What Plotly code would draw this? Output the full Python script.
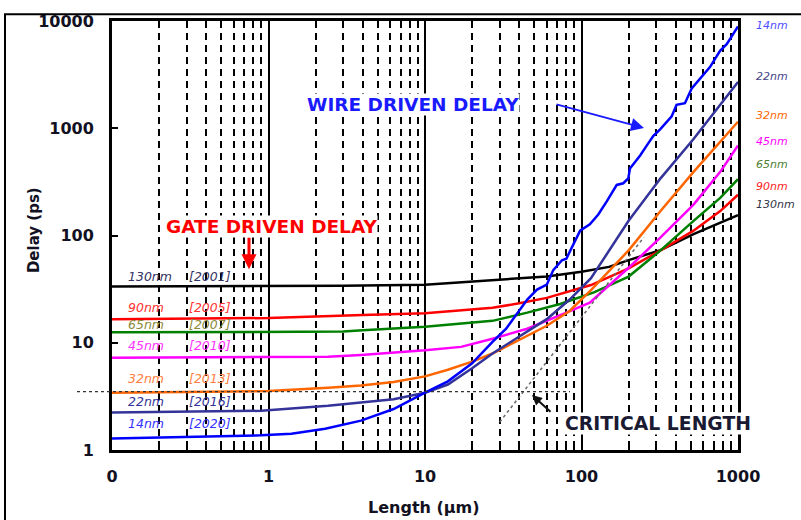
import math
import plotly.graph_objects as go

# ---------------- data ----------------
L_14 = [0.1, 0.5, 0.9, 1.4, 2.3, 3.9, 6.3, 10, 14, 20, 27, 33, 38.5, 45, 52, 60, 66, 75, 80,
        89, 98, 113, 128, 145, 168, 185, 199, 204, 237, 261, 288, 318, 377, 405, 458, 506,
        572, 662, 768, 847, 1000]
D_14 = [1.28, 1.33, 1.37, 1.42, 1.58, 1.88, 2.41, 3.42, 4.37, 6.43, 10.2, 13.5, 18.5, 25.3,
        31.3, 34.8, 47.6, 58.8, 60.8, 83.6, 111, 127, 157, 208, 296, 307, 341, 421, 557, 688,
        849, 977, 1294, 1656, 1714, 2350, 2900, 3715, 5280, 6070, 8900]

L_22 = [0.1, 0.9, 2.4, 6.3, 10, 14, 20, 27, 38, 60, 84, 115, 200, 320, 520, 1000]
D_22 = [2.24, 2.32, 2.58, 2.97, 3.42, 4.08, 5.78, 7.94, 10.9, 16.6, 25.3, 40, 137, 341, 793, 2700]

L_32 = [0.1, 1, 2.4, 3.9, 6.3, 10, 14, 20, 27, 38, 60, 84, 115, 200, 320, 520, 770, 1000]
D_32 = [3.42, 3.55, 3.8, 4.0, 4.3, 4.86, 5.6, 6.67, 7.94, 10.2, 14.4, 19.8, 31, 72.6, 169, 392,
        738, 1150]

L_45 = [0.1, 1, 2.4, 3.9, 10, 17, 27, 45, 64, 80, 113, 200, 320, 520, 770, 1000]
D_45 = [7.25, 7.3, 7.4, 7.7, 8.5, 9.15, 10.9, 13.5, 16.6, 19.1, 23.6, 50, 96, 194, 392, 690]

L_65 = [0.1, 1, 3, 4, 10, 27, 45, 73, 100, 120, 200, 320, 520, 770, 1000]
D_65 = [12.5, 12.6, 12.7, 13.1, 14.1, 16.0, 19.1, 23.0, 27.2, 29.5, 41.4, 72.6, 137, 224, 335]

L_90 = [0.1, 1, 4, 10, 27, 40, 60, 80, 115, 200, 320, 520, 770, 1000]
D_90 = [16.6, 17.0, 18.1, 18.8, 21.2, 23.3, 26.2, 29.5, 34.5, 49.4, 72.6, 111, 169, 240]

L_130 = [0.1, 1, 3, 10, 30, 60, 100, 150, 200, 320, 520, 770, 1000]
D_130 = [33.5, 33.6, 34.0, 34.7, 39, 41.5, 46, 51, 59, 73, 103, 132, 155]

CRIT_L = [30, 250]
CRIT_D = [1.82, 96]
CRIT_LEVEL = 3.5

NODES = ["130nm", "90nm", "65nm", "45nm", "32nm", "22nm", "14nm"]
YEARS = ["[2001]", "[2005]", "[2007]", "[2010]", "[2013]", "[2016]", "[2020]"]
CURVE_COLORS = ["#000000", "#ff0000", "#008000", "#ff00ff", "#ff6600", "#333399", "#0000ff"]
LABEL_COLORS = ["#333366", "#ff3333", "#8c8c3c", "#ff33ff", "#ff8040", "#333399", "#3333ff"]
SERIES_L = [L_130, L_90, L_65, L_45, L_32, L_22, L_14]
SERIES_D = [D_130, D_90, D_65, D_45, D_32, D_22, D_14]

X_TICKS = [0.1, 1, 10, 100, 1000]
X_TICKTEXT = ["0", "1", "10", "100", "1000"]
Y_TICKS = [1, 10, 100, 1000, 10000]
Y_TICKTEXT = ["1", "10", "100", "1000", "10000"]

# ---------------- layout geometry ----------------
W, H = 801, 520
ML, MR, MT, MB = 112, 63, 13, 70
PW, PH = W - ML - MR, H - MT - MB


def px(x):
    return (x - ML) / PW


def py(y):
    return (H - MB - y) / PH


BOLD = "DejaVu Sans"
fig = go.Figure()

for name, L, D, c in zip(NODES, SERIES_L, SERIES_D, CURVE_COLORS):
    fig.add_trace(go.Scatter(x=L, y=D, mode="lines", name=name, showlegend=False,
                             line=dict(color=c, width=2.5)))

fig.add_trace(go.Scatter(x=CRIT_L, y=CRIT_D, mode="lines", showlegend=False,
                         line=dict(color="#666666", width=1.5, dash="dot")))

shapes = []
ylev = math.log10(CRIT_LEVEL) / 4.0
shapes.append(dict(type="line", xref="paper", yref="paper", x0=px(77), x1=px(570),
                   y0=ylev, y1=ylev, line=dict(color="#333333", width=1.2, dash="dot")))

# white boxes behind left labels (hide grid, stay below curves)
label_rows = [273, 305, 322, 344, 377, 401, 423]
for yy in label_rows:
    shapes.append(dict(type="rect", xref="paper", yref="paper", layer="between",
                       x0=px(121), x1=px(252), y0=py(yy + 8), y1=py(yy - 8),
                       fillcolor="white", line=dict(width=0)))

# outer frame (left and top edges visible)
shapes.append(dict(type="line", xref="paper", yref="paper", x0=px(5), x1=px(5),
                   y0=py(6), y1=py(530), line=dict(color="black", width=2)))
shapes.append(dict(type="line", xref="paper", yref="paper", x0=px(4), x1=px(820),
                   y0=py(6), y1=py(6), line=dict(color="black", width=2)))

ann = []
for name, yr, c, yy in zip(NODES, YEARS, LABEL_COLORS, label_rows):
    ann.append(dict(xref="paper", yref="paper", x=px(126), y=py(yy), text=name,
                    showarrow=False, xanchor="left", yanchor="middle",
                    font=dict(family="DejaVu Sans", size=12.5, color=c, style="italic")))
    ann.append(dict(xref="paper", yref="paper", x=px(187), y=py(yy), text=yr,
                    showarrow=False, xanchor="left", yanchor="middle",
                    font=dict(family="DejaVu Sans", size=12.5, color=c, style="italic")))

right_rows = {"14nm": 18, "22nm": 70, "32nm": 109, "45nm": 136, "65nm": 159, "90nm": 182, "130nm": 200}
right_colors = {"14nm": "#4d4dff", "22nm": "#444488", "32nm": "#ff6600", "45nm": "#ff00ff",
                "65nm": "#4d8033", "90nm": "#ff2222", "130nm": "#333344"}
for name in NODES:
    ann.append(dict(xref="paper", yref="paper", x=px(754), y=py(right_rows[name]), text=name,
                    showarrow=False, xanchor="left", yanchor="middle",
                    font=dict(family="DejaVu Sans", size=11, color=right_colors[name],
                              style="italic")))

ann.append(dict(xref="paper", yref="paper", x=px(271), y=py(222), text="GATE DRIVEN DELAY",
                showarrow=False, xanchor="center", yanchor="middle", bgcolor="white",
                borderpad=0,
                font=dict(family=BOLD, size=18.5, color="#ff0000", weight="bold")))
ann.append(dict(xref="paper", yref="paper", x=px(413), y=py(98), text="WIRE DRIVEN DELAY",
                showarrow=False, xanchor="center", yanchor="middle", bgcolor="white",
                borderpad=0,
                font=dict(family=BOLD, size=18.5, color="#1a1aff", weight="bold")))
ann.append(dict(xref="paper", yref="paper", x=px(658), y=py(423), text="CRITICAL LENGTH",
                showarrow=False, xanchor="center", yanchor="middle", bgcolor="white",
                borderpad=0,
                font=dict(family=BOLD, size=18.8, color="#1a1a33", weight="bold")))

ann.append(dict(xref="paper", yref="paper", x=px(249), y=py(266), text="", showarrow=True,
                ax=0, ay=-33, arrowcolor="#ff0000", arrowwidth=3, arrowhead=2, arrowsize=1))
ann.append(dict(xref="paper", yref="paper", x=px(644), y=py(122), text="", showarrow=True,
                ax=-89, ay=-24, arrowcolor="#1a1aff", arrowwidth=2, arrowhead=2, arrowsize=1.3))
ann.append(dict(xref="paper", yref="paper", x=px(532), y=py(394), text="", showarrow=True,
                ax=20, ay=18, arrowcolor="#111111", arrowwidth=2, arrowhead=2, arrowsize=1))

ann.append(dict(xref="paper", yref="paper", x=px(424), y=py(509), text="Length (μm)",
                showarrow=False, xanchor="center", yanchor="middle",
                font=dict(family=BOLD, size=16, color="#111122", weight="bold")))
ann.append(dict(xref="paper", yref="paper", x=px(34), y=py(226), text="Delay (ps)",
                showarrow=False, xanchor="center", yanchor="middle", textangle=-90,
                font=dict(family=BOLD, size=15, color="#111122", weight="bold")))

tickfont = dict(family=BOLD, size=16, color="#111122", weight="bold")

fig.update_layout(
    width=W, height=H,
    margin=dict(l=ML, r=MR, t=MT, b=MB),
    paper_bgcolor="white", plot_bgcolor="white",
    shapes=shapes, annotations=ann,
    xaxis=dict(type="log", range=[-1, 3], tickmode="array", tickvals=X_TICKS,
               ticktext=X_TICKTEXT, tickfont=tickfont, showgrid=True, gridcolor="black",
               gridwidth=2, showline=True, linecolor="black", linewidth=3, mirror=True,
               ticks="inside", ticklen=5, tickwidth=2, tickcolor="black",
               ticklabelstandoff=10, zeroline=False,
               minor=dict(dtick="D1", showgrid=True, gridcolor="black", gridwidth=2,
                          griddash="7px,5px", ticks="inside", ticklen=5, tickwidth=1.5,
                          tickcolor="black")),
    yaxis=dict(type="log", range=[0, 4], tickmode="array", tickvals=Y_TICKS,
               ticktext=Y_TICKTEXT, tickfont=tickfont, showgrid=False, showline=True,
               linecolor="black", linewidth=3, mirror=True, ticks="inside", ticklen=6,
               tickwidth=2, tickcolor="black", ticklabelstandoff=12, zeroline=False),
)

fig.write_html("out.html", config={"displayModeBar": False},
               post_script="document.body.style.margin='0';")
